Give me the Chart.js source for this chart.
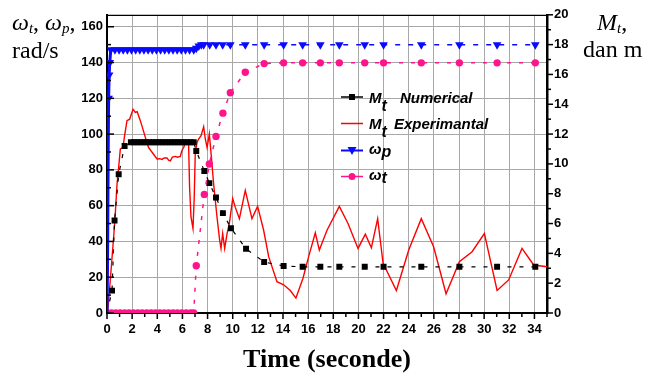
<!DOCTYPE html>
<html>
<head>
<meta charset="utf-8">
<script src="https://cdn.jsdelivr.net/npm/chart.js@4.4.1/dist/chart.umd.min.js"></script>
<style>
  html, body { margin: 0; padding: 0; background: #fff; }
</style>
</head>
<body>
<canvas id="torqueChart" width="653" height="376"></canvas>
<script>
// tick labels
const xTicks = [0, 2, 4, 6, 8, 10, 12, 14, 16, 18, 20, 22, 24, 26, 28, 30, 32, 34];
const leftTicks = [0, 20, 40, 60, 80, 100, 120, 140, 160];
const rightTicks = [0, 2, 4, 6, 8, 10, 12, 14, 16, 18, 20];

// M_t numerical (dan m)
const numTime = [0, 0.4, 0.6, 0.93, 1.4,
    1.9, 2.15, 2.4, 2.65, 2.9, 3.15, 3.4, 3.65, 3.9, 4.15, 4.4, 4.65, 4.9, 5.15, 5.4, 5.65, 5.9, 6.15, 6.4, 6.65, 6.9,
    7.1, 7.74, 8.14, 8.67, 9.22, 9.86, 11.06, 12.5, 14.05,
    15.56, 16.97, 18.48, 20.5, 22.0, 25.0, 28.03, 31.03, 34.07];
const numTorque = [0, 1.5, 6.2, 9.3, 11.2,
    11.45, 11.45, 11.45, 11.45, 11.45, 11.45, 11.45, 11.45, 11.45, 11.45, 11.45, 11.45, 11.45, 11.45, 11.45, 11.45, 11.45, 11.45, 11.45, 11.45, 11.45,
    10.87, 9.53, 8.71, 7.75, 6.7, 5.69, 4.31, 3.42, 3.15,
    3.1, 3.1, 3.1, 3.1, 3.1, 3.1, 3.1, 3.1, 3.1];

// M_t experimental (dan m)
const expTime = [0.05, 0.26, 0.53, 0.66, 0.8, 0.93, 1.06, 1.27, 1.4, 1.59, 1.8, 2.07, 2.25, 2.4, 2.65, 2.78,
    3.05, 3.3, 3.57, 3.98, 4.2, 4.37, 4.55, 4.77, 4.9, 5.04, 5.2, 5.43, 5.6, 5.83, 5.96, 6.1, 6.23, 6.4, 6.49,
    6.57, 6.68, 6.84, 6.94, 7.02, 7.16, 7.29, 7.48, 7.69, 7.82, 7.96, 8.14, 8.3, 8.48, 8.75, 8.96, 9.07, 9.2,
    9.36, 9.55, 9.73, 10.0, 10.2, 10.53, 11.0, 11.53, 11.98, 12.46, 12.86, 13.52, 14.05, 14.58, 15.03, 15.59,
    16.04, 16.57, 16.89, 17.5, 18.48, 19.17, 19.97, 20.55, 21.03, 21.53, 21.96, 23.02, 24.0, 25.0, 25.98,
    26.97, 28.03, 29.04, 30.02, 31.03, 31.95, 33.01, 33.94, 35];
const expTorque = [0, 2.2, 5.1, 6.67, 8.67, 9.78, 11.0, 11.1, 11.9, 12.9, 13.0, 13.67, 13.45, 13.5, 12.9, 12.55,
    11.78, 11.1, 10.8, 10.33, 10.35, 10.3, 10.4, 10.4, 10.25, 10.2, 10.45, 10.5, 10.45, 10.5, 10.9, 11.1, 11.44, 11.45, 11.3,
    8.44, 6.44, 5.67, 7.78, 10.67, 11.44, 11.67, 11.89, 12.49, 11.67, 11.1, 12.0, 10.5, 8.67, 6.44, 4.89, 4.33, 5.33,
    4.33, 5.33, 6.0, 7.67, 7.1, 6.33, 8.22, 6.33, 7.15, 5.55, 3.78, 2.1, 1.89, 1.51, 1.0, 2.33,
    3.78, 5.38, 4.22, 5.55, 7.15, 6.0, 4.33, 5.29, 4.38, 6.33, 3.33, 1.51, 4.22, 6.33, 4.44,
    1.29, 3.44, 4.11, 5.33, 1.51, 2.22, 4.33, 3.22, 3.1];

// omega_p (rad/s)
const pumpTime = [0, 0.04, 0.07, 0.1, 0.13, 0.17, 0.22,
    0.3, 0.63, 0.96, 1.29, 1.62, 1.95, 2.28, 2.61, 2.94, 3.27, 3.6, 3.93, 4.26, 4.59, 4.92, 5.25, 5.58, 5.91, 6.24, 6.57, 6.9,
    7.1, 7.3,
    7.5, 7.69, 8.17, 8.67, 9.2, 9.81, 11.0, 12.5, 14.05, 15.56, 16.97, 18.48, 20.5, 22.0, 25.0, 28.03, 31.03, 34.07];
const pumpSpeed = [0, 25, 60, 95, 120, 133, 140,
    147.2, 147.2, 147.2, 147.2, 147.2, 147.2, 147.2, 147.2, 147.2, 147.2, 147.2, 147.2, 147.2, 147.2, 147.2, 147.2, 147.2, 147.2, 147.2, 147.2, 147.2,
    148, 149.3,
    150, 150, 150, 150, 150, 150, 150, 150, 150, 150, 150, 150, 150, 150, 150, 150, 150, 150];

// omega_t (rad/s)
const turbTime = [0, 0.35, 0.7, 1.05, 1.4, 1.75, 2.1, 2.45, 2.8, 3.15, 3.5, 3.85, 4.2, 4.55, 4.9, 5.25, 5.6, 5.95, 6.3, 6.65, 6.9,
    7.1, 7.74, 8.14, 8.67, 9.22, 9.81, 11.0, 12.5,
    14.05, 15.56, 16.97, 18.48, 20.5, 22.0, 25.0, 28.03, 31.03, 34.07];
const turbSpeed = [0, 0, 0, 0, 0, 0, 0, 0, 0, 0, 0, 0, 0, 0, 0, 0, 0, 0, 0, 0, 0,
    26.4, 66.3, 83.3, 98.7, 111.7, 123.1, 134.6, 139.4,
    139.8, 139.8, 139.8, 139.8, 139.8, 139.8, 139.8, 139.8, 139.8, 139.8];

const BLUE = "#0a0aff";
const PINK = "#ff148c";
const RED = "#ff0000";

const pts = (xs, ys) => xs.map((x, i) => ({ x: x, y: ys[i] }));

const tickFont = { family: "'Liberation Sans', Arial, sans-serif", size: 13, weight: "bold" };
const serif = "'Liberation Serif', 'Times New Roman', serif";
const sans = "'Liberation Sans', Arial, sans-serif";

function drawRuns(ctx, x, y, parts) {
    for (const [text, font, dy] of parts) {
        ctx.font = font;
        ctx.fillText(text, x, y + dy);
        x += ctx.measureText(text).width;
    }
}

function seg(ctx, x1, y1, x2, y2) {
    ctx.beginPath();
    ctx.moveTo(x1, y1);
    ctx.lineTo(x2, y2);
    ctx.stroke();
}

// frame, tick marks, axis titles and legend
const decorPlugin = {
    id: "decor",
    afterDraw(chart) {
        const ctx = chart.ctx;
        const { left, right, top, bottom } = chart.chartArea;
        const sx = chart.scales.x, sl = chart.scales.y, sr = chart.scales.y2;
        ctx.save();
        ctx.strokeStyle = "#000";
        ctx.fillStyle = "#000";
        ctx.lineWidth = 1.2;
        seg(ctx, left, top + 0.5, right, top + 0.5);

        ctx.lineWidth = 1.5;
        for (let t = 0; t <= 35; t++) {
            const px = sx.getPixelForValue(t);
            seg(ctx, px, bottom, px, bottom + (t % 2 === 0 ? 6 : 4));
        }
        for (let v = 0; v <= 160; v += 10) {
            const py = sl.getPixelForValue(v);
            seg(ctx, left, py, left + (v % 20 === 0 ? 7 : 4), py);
        }
        for (let v = 0; v <= 20; v++) {
            const py = sr.getPixelForValue(v);
            seg(ctx, right, py, right + (v % 2 === 0 ? 6 : 4), py);
        }

        // axis titles
        ctx.textBaseline = "alphabetic";
        ctx.textAlign = "left";
        drawRuns(ctx, 12, 30, [
            ["ω", "italic 24px " + serif, 0],
            ["t", "italic 15px " + serif, 3],
            [", ", "24px " + serif, 0],
            ["ω", "italic 24px " + serif, 0],
            ["p", "italic 15px " + serif, 3],
            [",", "24px " + serif, 0],
        ]);
        ctx.font = "24px " + serif;
        ctx.fillText("rad/s", 12, 58);
        drawRuns(ctx, 597, 30, [
            ["M", "italic 24px " + serif, 0],
            ["t", "italic 15px " + serif, 3],
            [",", "24px " + serif, 0],
        ]);
        ctx.font = "24px " + serif;
        ctx.fillText("dan m", 583, 57);
        ctx.font = "bold 26px " + serif;
        ctx.textAlign = "center";
        ctx.fillText("Time (seconde)", (left + right) / 2, 367);
        ctx.textAlign = "left";

        // legend
        const lx1 = 341, lx2 = 363, lc = 352;
        // numerical
        ctx.lineWidth = 1.5;
        ctx.strokeStyle = "#000";
        seg(ctx, lx1, 97, lx2, 97);
        ctx.fillRect(lc - 3, 94, 6, 6);
        drawRuns(ctx, 369, 102.5, [["M", "bold italic 15px " + sans, 0], ["t", "bold italic 16px " + sans, 8]]);
        ctx.font = "bold italic 15px " + sans;
        ctx.fillText("Numerical", 400, 102.5);
        // experimental
        ctx.strokeStyle = RED;
        seg(ctx, lx1, 123.5, lx2, 123.5);
        drawRuns(ctx, 369, 128.5, [["M", "bold italic 15px " + sans, 0], ["t", "bold italic 16px " + sans, 8]]);
        ctx.font = "bold italic 15px " + sans;
        ctx.fillText("Experimantal", 394, 128.5);
        // omega p
        ctx.strokeStyle = BLUE;
        ctx.fillStyle = BLUE;
        ctx.lineWidth = 2;
        seg(ctx, lx1, 150.5, lx2, 150.5);
        ctx.beginPath();
        ctx.moveTo(lc - 4.5, 147);
        ctx.lineTo(lc + 4.5, 147);
        ctx.lineTo(lc, 155);
        ctx.closePath();
        ctx.fill();
        ctx.fillStyle = "#000";
        drawRuns(ctx, 369, 153.5, [["ω", "bold italic 15px " + sans, 0], ["p", "bold italic 16px " + sans, 3]]);
        // omega t
        ctx.strokeStyle = PINK;
        ctx.fillStyle = PINK;
        ctx.lineWidth = 1.5;
        seg(ctx, lx1, 176.5, lx2, 176.5);
        ctx.beginPath();
        ctx.arc(lc, 176.5, 3.5, 0, Math.PI * 2);
        ctx.fill();
        ctx.fillStyle = "#000";
        drawRuns(ctx, 369, 179.5, [["ω", "bold italic 15px " + sans, 0], ["t", "bold italic 16px " + sans, 3]]);
        ctx.restore();
    },
};

const ctx = document.getElementById("torqueChart").getContext("2d");

const chart = new Chart(ctx, {
    type: "line",
    data: {
        datasets: [
            {
                label: "ωp",
                data: pts(pumpTime, pumpSpeed),
                yAxisID: "y",
                order: 1,
                borderColor: BLUE,
                backgroundColor: BLUE,
                borderWidth: 1.5,
                borderDash: [5, 8],
                segment: {
                    borderDash: (c) => (c.p1.parsed.x <= 0.3 ? [] : [5, 8]),
                    borderWidth: (c) => (c.p1.parsed.x <= 0.3 ? 3 : 1.5),
                },
                pointStyle: "triangle",
                rotation: 180,
                pointRadius: (c) => (c.raw && c.raw.y < 120 ? 0 : 5),
                pointBorderWidth: 0,
            },
            {
                label: "ωt",
                data: pts(turbTime, turbSpeed),
                yAxisID: "y",
                order: 2,
                borderColor: PINK,
                backgroundColor: PINK,
                borderWidth: 1.5,
                borderDash: [4, 8],
                pointStyle: "circle",
                pointRadius: 3.7,
                pointBorderWidth: 0,
            },
            {
                label: "Mt Numerical",
                data: pts(numTime, numTorque),
                yAxisID: "y2",
                order: 3,
                borderColor: "#000",
                backgroundColor: "#000",
                borderWidth: 1.2,
                borderDash: [4, 8],
                pointStyle: "rect",
                pointRadius: 4.2,
                pointBorderWidth: 0,
            },
            {
                label: "Mt Experimantal",
                data: pts(expTime, expTorque),
                yAxisID: "y2",
                order: 4,
                borderColor: RED,
                borderWidth: 1.4,
                pointRadius: 0,
            },
        ],
    },
    options: {
        responsive: false,
        animation: false,
        devicePixelRatio: 1,
        layout: { padding: { top: 13, left: 0, right: 0, bottom: 0 } },
        plugins: {
            legend: { display: false },
            tooltip: { enabled: false },
        },
        elements: { line: { tension: 0 } },
        scales: {
            x: {
                type: "linear",
                min: 0,
                max: 35,
                afterBuildTicks: (s) => { s.ticks = xTicks.map((v) => ({ value: v })); },
                afterFit: (s) => { s.height = 63; },
                grid: { color: "#a8a8a8", lineWidth: 1, drawTicks: false },
                border: { display: true, color: "#000", width: 2 },
                ticks: { font: tickFont, color: "#000", padding: 9, maxRotation: 0, autoSkip: false },
            },
            y: {
                type: "linear",
                position: "left",
                min: 0,
                max: 166.67,
                afterBuildTicks: (s) => { s.ticks = leftTicks.map((v) => ({ value: v })); },
                afterFit: (s) => { s.width = 107; },
                grid: { color: "#a8a8a8", lineWidth: 1, drawTicks: false },
                border: { display: true, color: "#000", width: 2 },
                ticks: { font: tickFont, color: "#000", padding: 4 },
            },
            y2: {
                type: "linear",
                position: "right",
                min: 0,
                max: 20,
                afterBuildTicks: (s) => { s.ticks = rightTicks.map((v) => ({ value: v })); },
                afterFit: (s) => { s.width = 106; },
                grid: { display: false, drawTicks: false },
                border: { display: true, color: "#000", width: 2.5 },
                ticks: { font: tickFont, color: "#000", padding: 7 },
            },
        },
    },
    plugins: [decorPlugin],
});
</script>
</body>
</html>
